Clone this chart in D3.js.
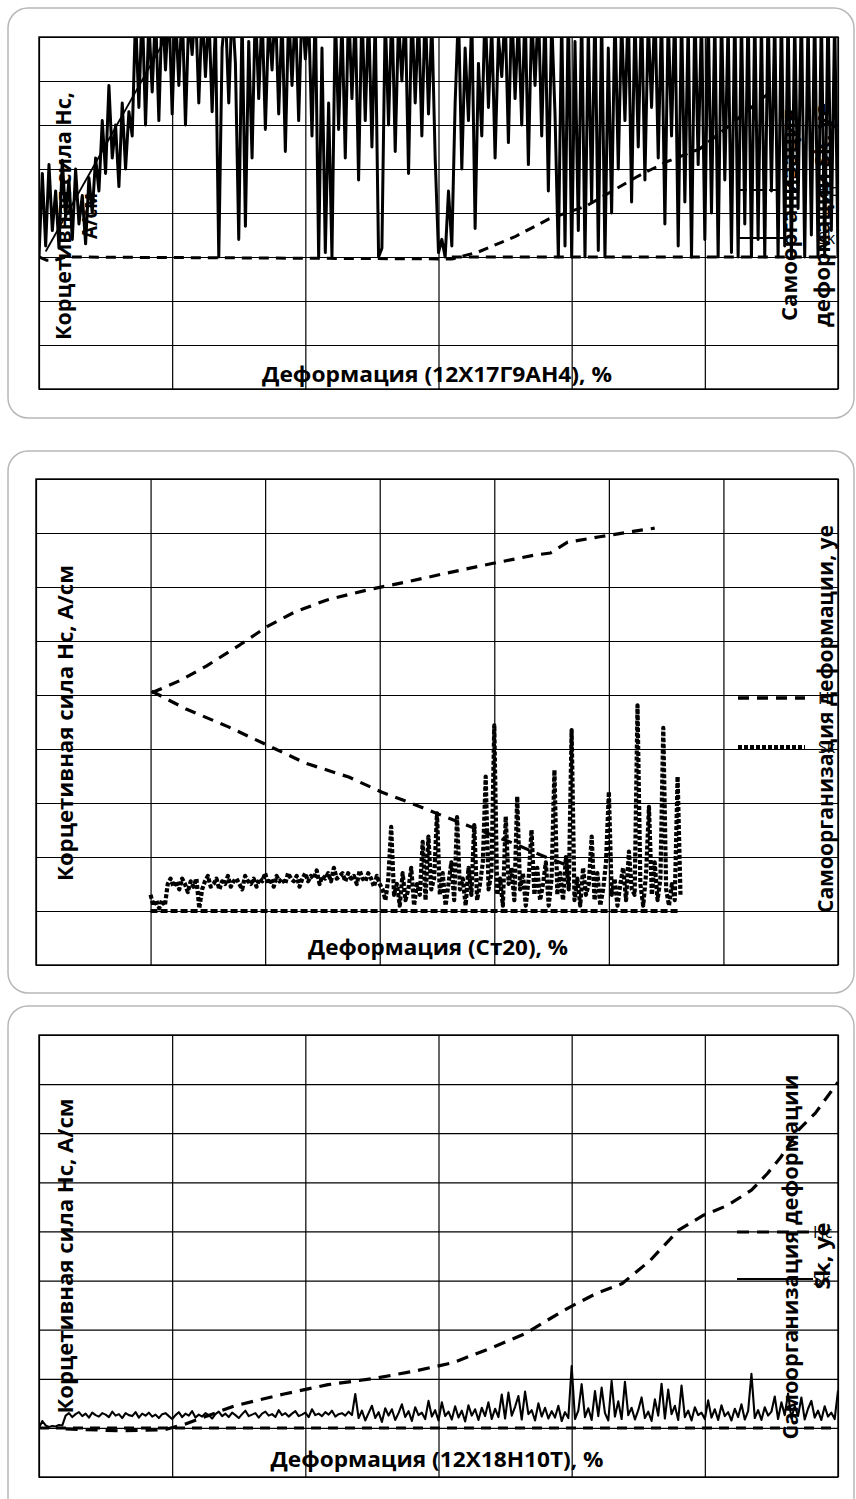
<!DOCTYPE html>
<html><head><meta charset="utf-8">
<script src="https://cdn.jsdelivr.net/npm/d3@7"></script>
<style>body{margin:0;background:#fff}</style>
</head><body><svg id="c" width="856" height="1499"></svg>
<script>
// ===== Panel 1: 12Х17Г9АН4 =====
const p1XTicks = [0,10,20,30,40,50,60];
const p1YTicks = [-60,-40,-20,0,20,40,60,80,100];
const p1SkStart = 0, p1SkStep = 0.25;
const p1Sk = [0,38,5,42,12,30,4,44,18,35,8,40,15,28,6,36,20,45,
30,62,38,78,45,60,32,70,40,66,
55,110,68,115,60,108,75,112,62,115,
85,115,65,112,78,114,60,110,92,115,70,113,82,112,66,105,
0,
95,112,70,115,88,
8,110,14,98,45,
115,72,112,58,108,85,115,65,110,48,112,78,114,62,115,90,110,55,113,
0,95,2,70,0,
112,58,108,45,115,72,110,35,114,62,112,50,108,
0,4,
110,60,115,48,108,80,112,38,114,70,110,55,115,65,108,45,
2,8,0,30,5,
70,112,40,95,62,110,13,88,55,115,68,105,45,100,82,112,52,115,72,108,60,114,42,110,78,115,55,112,30,108,65,
0,110,5,115,0,98,12,112,0,105,25,115,3,110,0,95,20,
112,40,108,62,115,25,110,50,114,35,108,68,115,45,112,15,110,55,115,
5,112,25,108,0,115,42,110,8,114,20,110,0,112,35,108,2,
115,0,110,15,115,0,112,8,108,0,115,30,110,0,114,5,112,0,108,22,115,0,110,10,114,0,112,0,115,12,110,0];
const p1HcX = [0,0.6,1.2,2,31,33,35.7,38.3,41.1,45,47.1,49.6,51.8,55];
const p1HcY = [0,-1.5,-1.5,0,-0.9,2.3,9.1,17.3,23.2,36.8,43.2,49.1,59.5,75.5];
const p1TrendX = [0.5,10.5];
const p1TrendY = [2.5,110];
const p1BaseX = [31,60];
const p1BaseY = [0,0];

// ===== Panel 2: Ст20 =====
const p2XTicks = [0,10,20,30,40,50,60,70];
const p2YTicks = [-10,0,10,20,30,40,50,60,70,80];
const p2SkStart = 10, p2SkStep = 0.25;
const p2Sk = [3,1,2,0.5,2,1,
5,6,4.5,5.5,4,6,5,3.5,5.5,4.5,6,0.5,4,5.5,6.5,4.5,5,6,4,5.5,
5,6.5,4.5,5.5,6,5,4,6.5,5.5,5,6,4.5,6,5.5,7,5,6,4.5,6.5,5.5,
6,5,7,6,5.5,6.5,4.5,6,7,5.5,6.5,6,7.5,5,6.5,6,7,5.5,8,6,
6.5,7,5.5,7,6,6.5,5,7.5,6,5.5,7,6,4.5,6.5,5,
4,2,6,15.6,3,5,1,7,2,4,8,1,5,3,12.8,2,13.8,4,6,18.1,
3,7,1,5,9,2,17.4,4,6,1,8,3,15.9,2,5,9,24.9,4,7,34.4,
3,6,1,17.5,5,8,2,21.2,4,7,1,6,15,3,8,2,5,9,1,6,
26.1,3,7,2,10,4,33.5,2,6,1,8,3,5,13.8,2,7,1,4,9,22.1,
3,6,1,5,8,2,11,4,3,38.1,5,1,7,19.3,3,9,2,6,33.9,4,
1,5,2,24.9,3];
const p2UpX = [10.1,12.6,14.9,17.8,20.2,22.6,25.4,29.2,32.5,35.9,39.7,43.5,44.9,46.4,49.2,52.1,54.0];
const p2UpY = [40.4,42.7,45.4,49.3,52.7,55.4,57.6,59.6,61.0,62.6,64.3,65.9,66.3,68.3,69.3,70.3,70.9];
const p2DownX = [10.1,13.1,16.8,20.2,23.5,27.3,30.2,33.2,35.3,37.6,39.4,41.6,44.0,46.3];
const p2DownY = [40.7,37.4,34.1,30.7,27.4,24.8,22.0,19.6,17.8,15.9,14.4,12.6,10.4,8.5];
const p2BaseX = [10,56.25];
const p2BaseY = [0,0];

// ===== Panel 3: 12Х18Н10Т =====
const p3XTicks = [0,10,20,30,40,50,60];
const p3YTicks = [-10,0,10,20,30,40,50,60,70,80];
const p3SkStart = 0, p3SkStep = 0.25;
const p3Sk = [0,1.4,0.5,0.2,0.4,0.3,0.6,0.5,
2.5,3,2.2,2.8,3.2,2.4,2.9,2.1,3.1,2.6,2.3,3,2.7,2.2,3.3,2.5,2.8,2,3,2.6,
2.4,3.2,2.1,2.9,2.5,3.1,2.3,2.7,2,2.8,3,2.4,1.8,2.6,3.2,2.2,2.9,2.5,3.4,2.1,
2.7,2.3,3,2.6,1.9,2.8,3.3,2.4,2.9,2.2,3.1,2.6,2,2.8,3.5,2.4,2.7,3,2.1,2.9,
3.3,2.5,2.8,2.2,3.6,2.6,3,2.3,2.9,3.4,2.4,2.7,3.1,2.2,3.8,2.6,2.9,2.4,3.2,2.7,
3.5,2.3,2.8,3,2.5,3.3,2.6,
6.9,2,3.5,1.5,3,4.5,2,3.2,1.2,4,2.5,3.8,1.6,3,4.8,2.2,3.4,1.4,4.2,2.6,
3.1,1.8,5.5,2.3,3.6,1.5,5.2,2.4,3.3,1.7,4.4,2.1,3.5,1.3,4.6,2.5,3.8,1.6,4.1,2.4,
5.2,1.8,3.9,2.2,6.8,1.9,7.2,2.5,4.3,6.5,1.7,7.4,2.8,3.6,1.5,5,2.3,4.1,1.9,3.4,
2.1,4.5,1.4,3.2,2,12.6,1.8,3.5,8.9,2.2,4,1.6,7.5,2.4,8.2,3,1.5,9.6,2.3,5.4,
1.8,9.4,2.6,4.1,1.7,3.6,6.2,2,3.3,1.4,5.8,2.5,9,1.9,7.8,2.8,4.5,1.6,8.6,2.2,
3.5,1.5,4.2,2.6,3.1,1.8,5.6,2.1,3.8,1.6,4.6,2.4,3.2,1.5,3.9,2.2,4.8,1.7,3.4,11,
2,3.6,1.6,4.2,2.5,3.3,6.4,1.8,5.2,2.6,7,1.9,4.5,2.4,6.2,1.7,3.9,5.5,2.1,3.5,
1.6,4.4,2.3,3.1,1.8,7.6];
const p3HcX = [2.0,6.1,9.4,11.0,14.7,18.4,21.7,25.0,28.3,31.1,34.0,36.5,38.1,39.8,41.8,43.8,45.9,48.0,49.9,51.7,53.5,54.7,55.7,57.0,58.3,60.0];
const p3HcY = [-0.2,-0.6,-0.4,0.8,4.5,6.9,8.8,10.0,11.6,13.3,16.3,19.2,21.8,24.5,27.3,29.4,34.1,40.2,43.3,45.3,48.4,51.8,55.1,60.6,64.1,70.4];
const p3BaseX = [0,60];
const p3BaseY = [0,0];

const legendLabels = ["Нс","Sk"];

// ===== drawing =====
const zip = (xs, ys) => xs.map((v,i)=>[v, ys[i]]);
const seq = (start, step, vals) => vals.map((v,i)=>[start + i*step, v]);
const FONT = "'Open Sans', 'DejaVu Sans', sans-serif";
const svg = d3.select("#c");
svg.append("rect").attr("width",856).attr("height",1499).attr("fill","#fff");

function rotText(g, t){
  const el = g.append("text")
    .attr("transform", t.rot ? `translate(${t.x},${t.y}) rotate(-90)` : `translate(${t.x},${t.y})`)
    .attr("text-anchor","middle").attr("dominant-baseline","central")
    .attr("font-family",FONT).attr("font-size",t.size).attr("font-weight",t.weight||700)
    .attr("fill","#000").text(t.t);
  if (t.len) el.attr("textLength",t.len).attr("lengthAdjust","spacingAndGlyphs");
}

function panel(o){
  const g = svg.append("g");
  g.append("rect").attr("x",o.box[0]).attr("y",o.box[1]).attr("width",o.box[2]).attr("height",o.box[3])
    .attr("rx",20).attr("fill","#fff").attr("stroke","#b8b8b8").attr("stroke-width",1.5);
  const x = d3.scaleLinear().domain(d3.extent(o.xTicks)).range([o.l,o.r]);
  const y = d3.scaleLinear().domain(d3.extent(o.yTicks)).range([o.b,o.t]);
  const w = o.r-o.l, h = o.b-o.t;
  const gx = g.append("g").attr("transform",`translate(0,${o.b})`)
    .call(d3.axisBottom(x).tickValues(o.xTicks).tickSize(-h).tickFormat(""));
  const gy = g.append("g").attr("transform",`translate(${o.l},0)`)
    .call(d3.axisLeft(y).tickValues(o.yTicks).tickSize(-w).tickFormat(""));
  [gx,gy].forEach(a=>{a.select(".domain").remove(); a.selectAll("line").attr("stroke","#000").attr("stroke-width",1.2);});
  g.append("rect").attr("x",o.l).attr("y",o.t).attr("width",w).attr("height",h)
    .attr("fill","none").attr("stroke","#000").attr("stroke-width",1.4);
  const id = "clip"+o.id;
  svg.append("clipPath").attr("id",id).append("rect").attr("x",o.l).attr("y",o.t).attr("width",w).attr("height",h);
  const dg = g.append("g").attr("clip-path",`url(#${id})`);
  const line = d3.line().x(d=>x(d[0])).y(d=>y(d[1]));
  o.series.forEach(s=>{
    dg.append("path").datum(s.pts).attr("d",line).attr("fill","none").attr("stroke","#000")
      .attr("stroke-width",s.w).attr("stroke-dasharray",s.dash||null)
      .attr("stroke-linejoin","round").attr("stroke-linecap",s.cap||"butt");
  });
  o.legend.forEach((L,i)=>{
    g.append("line").attr("x1",o.legX[0]).attr("x2",o.legX[1]).attr("y1",L.y).attr("y2",L.y)
      .attr("stroke","#000").attr("stroke-width",L.w).attr("stroke-dasharray",L.dash||null);
    g.append("text").attr("x",o.legX[2]).attr("y",L.y).attr("dominant-baseline","central")
      .attr("font-family",FONT).attr("font-size",16).attr("fill","#000").text(legendLabels[i]);
  });
  o.texts.forEach(t=>rotText(g,t));
}

panel({
  id:1, box:[8,8,846,410], l:39, r:838, t:37, b:389,
  xTicks:p1XTicks, yTicks:p1YTicks,
  series:[
    {pts:seq(p1SkStart,p1SkStep,p1Sk), w:3},
    {pts:zip(p1TrendX,p1TrendY), w:1.8},
    {pts:zip(p1BaseX,p1BaseY), w:3, dash:"10,7"},
    {pts:zip(p1HcX,p1HcY), w:3, dash:"10,7"}
  ],
  legX:[737,784,818],
  legend:[{y:190,w:2,dash:"10,6"},{y:238,w:2}],
  texts:[
    {x:63,y:216,t:"Корцетивная сила Нс,",len:248,size:21,rot:true},
    {x:89,y:216,t:"А/см",len:46,size:21,rot:true},
    {x:789,y:215,t:"Самоорганизация",len:212,size:21,rot:true},
    {x:822,y:215,t:"деформации Sk, уе",len:224,size:21,rot:true},
    {x:437,y:374,t:"Деформация (12Х17Г9АН4), %",len:350,size:21}
  ]
});

panel({
  id:2, box:[8,451,846,542], l:36, r:838, t:479, b:965,
  xTicks:p2XTicks, yTicks:p2YTicks,
  series:[
    {pts:zip(p2BaseX,p2BaseY), w:4, dash:"7,3"},
    {pts:seq(p2SkStart,p2SkStep,p2Sk), w:4.2, dash:"4,2"},
    {pts:zip(p2UpX,p2UpY), w:3.2, dash:"11,8"},
    {pts:zip(p2DownX,p2DownY), w:3.2, dash:"11,8"}
  ],
  legX:[738,805,818],
  legend:[{y:698,w:3.5,dash:"11,8"},{y:747,w:4.2,dash:"4,2"}],
  texts:[
    {x:65,y:723,t:"Корцетивная сила Нс, А/см",len:316,size:21,rot:true},
    {x:825,y:719,t:"Самоорганизация деформации, уе",len:388,size:21,rot:true},
    {x:438,y:947,t:"Деформация (Ст20), %",len:260,size:21}
  ]
});

panel({
  id:3, box:[8,1006,846,520], l:39, r:838, t:1035, b:1477,
  xTicks:p3XTicks, yTicks:p3YTicks,
  series:[
    {pts:zip(p3BaseX,p3BaseY), w:3, dash:"10,7"},
    {pts:seq(p3SkStart,p3SkStep,p3Sk), w:2.1},
    {pts:zip(p3HcX,p3HcY), w:3.2, dash:"12,8"}
  ],
  legX:[737,813,813],
  legend:[{y:1232,w:3,dash:"12,8"},{y:1279,w:1.8}],
  texts:[
    {x:65,y:1256,t:"Корцетивная сила Нс, А/см",len:315,size:21,rot:true},
    {x:790,y:1257,t:"Самоорганизация деформации",len:365,size:21,rot:true},
    {x:822,y:1256,t:"Sk, уе",len:67,size:21,rot:true},
    {x:437,y:1459,t:"Деформация (12Х18Н10Т), %",len:333,size:21}
  ]
});
</script></body></html>
